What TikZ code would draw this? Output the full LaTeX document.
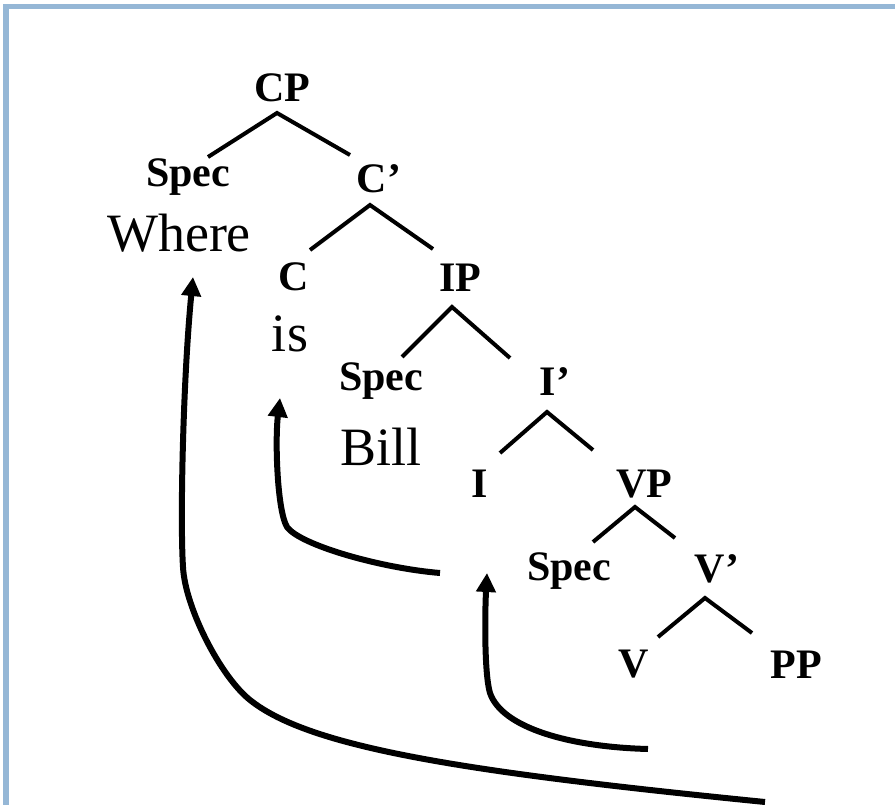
\documentclass[tikz,border=0pt]{standalone}
\usepackage{fontspec}
\setmainfont{Liberation Serif}
\usepackage{tikz}
\usetikzlibrary{arrows.meta}
\definecolor{frameblue}{HTML}{95B7D6}

\tikzset{
  cat/.style={font=\bfseries\fontsize{42}{42}\selectfont, anchor=base, inner sep=0pt},
  word/.style={font=\fontsize{54}{54}\selectfont, anchor=base, inner sep=0pt},
  branch/.style={line width=4pt, line join=miter},
  move/.style={line width=6pt, -{Triangle[length=19pt,width=19pt]}}
}

\begin{document}
\begin{tikzpicture}[x=1pt, y=-1pt]
      \useasboundingbox (0,0) rectangle (895,805);
      \fill[white] (0,0) rectangle (895,805);
      \fill[frameblue] (3,4) rectangle (895,9);
      \fill[frameblue] (3,4) rectangle (9,805);

      \node[cat] (cp) at (282,102) {CP};
      \node[cat] (specc) at (188,187) {Spec};
      \node[cat] (cbar) at (379,193) {C’};
      \node[word] (where) at (179,252) {Where};
      \node[cat] (c) at (294,291) {C};
      \node[cat] (ip) at (460,292) {IP};
      \node[word] (is) at (290,352) {is};
      \node[cat] (speci) at (381,390) {Spec};
      \node[word] (bill) at (381,465) {Bill};
      \node[cat] (ibar) at (555,395) {I’};
      \node[cat] (i) at (480,497) {I};
      \node[cat] (vp) at (644,497) {VP};
      \node[cat] (specv) at (569,580) {Spec};
      \node[cat] (vbar) at (717,582) {V’};
      \node[cat] (v) at (634,677) {V};
      \node[cat] (pp) at (796,678) {PP};

      \draw[branch] ([shift={(20,-30)}]specc.base) -- ([shift={(-5,11)}]cp.base) -- ([shift={(-29,-38)}]cbar.base);
      \draw[branch] ([shift={(16,-41)}]c.base) -- ([shift={(-9,12)}]cbar.base) -- ([shift={(-27,-43)}]ip.base);
      \draw[branch] ([shift={(21,-33)}]speci.base) -- ([shift={(-8,15)}]ip.base) -- ([shift={(-45,-37)}]ibar.base);
      \draw[branch] ([shift={(20,-44)}]i.base) -- ([shift={(-8,17)}]ibar.base) -- ([shift={(-51,-47)}]vp.base);
      \draw[branch] ([shift={(24,-38)}]specv.base) -- ([shift={(-9,10)}]vp.base) -- ([shift={(-42,-44)}]vbar.base);
      \draw[branch] ([shift={(24,-40)}]v.base) -- ([shift={(-12,16)}]vbar.base) -- ([shift={(-44,-45)}]pp.base);

      \coordinate (tailwhere) at (765,802);
      \coordinate (tailis) at (440,573);
      \coordinate (taili) at (648,749);

      \draw[move] (tailwhere) .. controls (465,772) and (310,748) .. (250,700)
        .. controls (220,676) and (185,607) .. (183,567)
        .. controls (180,520) and (183,380) .. ([shift={(14,25)}]where.base);
      \draw[move] (tailis) .. controls (380,568) and (300,545) .. (287,527)
        .. controls (277,510) and (275,440) .. ([shift={(-10,46)}]is.base);
      \draw[move] (taili) .. controls (570,747) and (502,728) .. (490,693)
        .. controls (484,673) and (485,610) .. ([shift={(7,76)}]i.base);
    \end{tikzpicture}
\end{document}
